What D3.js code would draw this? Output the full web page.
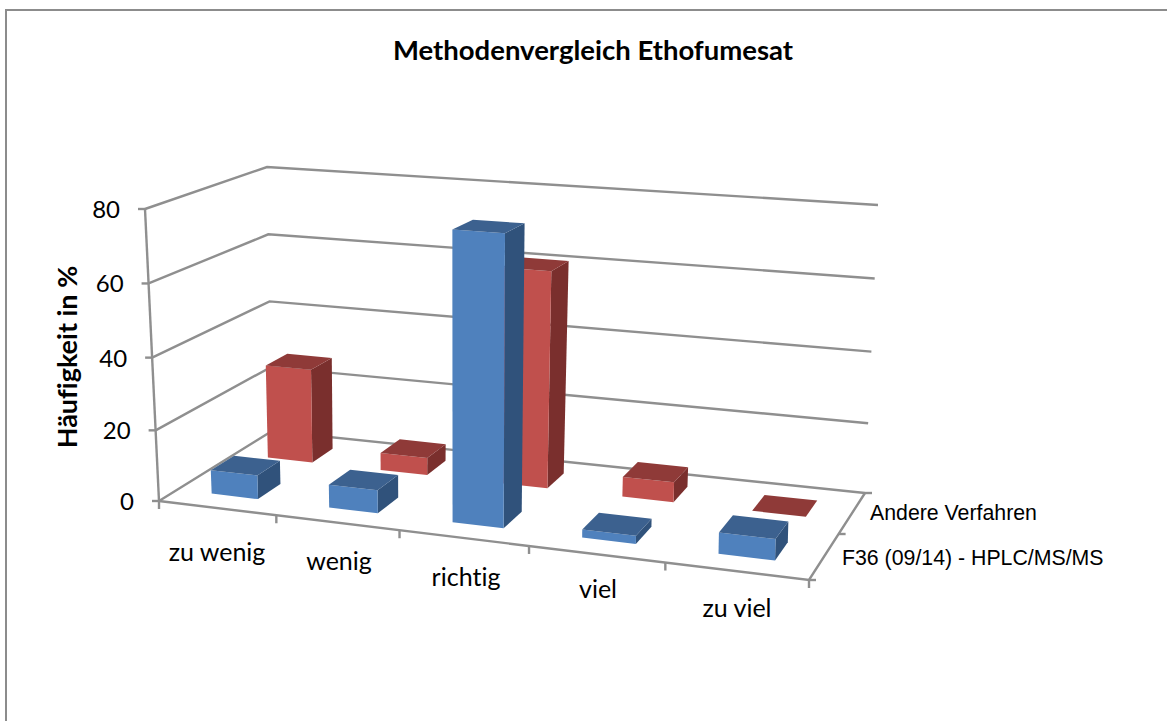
<!DOCTYPE html>
<html>
<head>
<meta charset="utf-8">
<style>html,body{margin:0;padding:0;background:#fff;overflow:hidden}svg{display:block}text{font-variant-ligatures:none;font-feature-settings:"liga" 0}</style>
<script src="https://cdn.jsdelivr.net/npm/d3@7"></script>
</head>
<body>
<svg id="chart" width="1167" height="721"></svg>
<script>
const title = "Methodenvergleich Ethofumesat";
const yTitle = "Häufigkeit in %";
const categories = ["zu wenig", "wenig", "richtig", "viel", "zu viel"];
const seriesNames = ["F36 (09/14) - HPLC/MS/MS", "Andere Verfahren"];
const valuesF36 = [6.7, 6.4, 78, 2.2, 5.6];
const valuesAndere = [27.5, 5, 61, 5.6, 0];
const yTicks = [0, 20, 40, 60, 80];

const svg = d3.select("#chart");

const floorQ = [[159,501],[809,580],[865,493],[272,431]];
const topQ = [[145,209],[815,256],[878,205],[267,167]];

function homography(q){
  const [[x0,y0],[x1,y1],[x2,y2],[x3,y3]] = q;
  const dx1=x1-x2, dx2=x3-x2, sx=x0-x1+x2-x3;
  const dy1=y1-y2, dy2=y3-y2, sy=y0-y1+y2-y3;
  const det=dx1*dy2-dx2*dy1;
  const g=(sx*dy2-dx2*sy)/det, h=(dx1*sy-sx*dy1)/det;
  const a=x1-x0+g*x1, b=x3-x0+h*x3, c=x0;
  const d=y1-y0+g*y1, e=y3-y0+h*y3, f=y0;
  return (u,v)=>{const w=g*u+h*v+1;return [(a*u+b*v+c)/w,(d*u+e*v+f)/w];};
}
const floorH = homography(floorQ), topH = homography(topQ);
const yScale = d3.scaleLinear().domain(yTicks).range([0,0.242,0.491,0.745,1]);
const uBand = d3.scaleBand().domain(categories).range([0,1]).paddingInner(0.6).paddingOuter(0.3);
const vBand = d3.scaleBand().domain(seriesNames).range([0,1]).paddingInner(0.6).paddingOuter(0.3);
const uPoint = d3.scaleBand().domain(categories).range([0,1]);

function P(u,v,val){
  const a=floorH(u,v), b=topH(u,v), t=yScale(val);
  return [a[0]+(b[0]-a[0])*t, a[1]+(b[1]-a[1])*t];
}
const pathOf = pts => d3.line()(pts)+"Z";
const gridColor="#8f8f8f";
const calibri="Lato, sans-serif", arial="'Liberation Sans', Arial, sans-serif";

const grid = svg.append("g").attr("fill","none").attr("stroke",gridColor).attr("stroke-width",2.4);
yTicks.forEach(t=>{
  const p=P(0,0,t);
  grid.append("path").attr("d", d3.line()([p,P(0,1,t),P(1,1,t)]));
  grid.append("path").attr("d", d3.line()([p,[p[0]-7,p[1]]]));
  svg.append("text").attr("x",p[0]-25).attr("y",p[1]+9)
    .attr("text-anchor","end").attr("font-family",calibri).attr("font-size",24).attr("fill","#000").text(t);
});
grid.append("path").attr("d", d3.line()([P(0,0,0),P(0,0,80)]));
grid.append("path").attr("d", d3.line()([P(0,0,0),P(1,0,0),P(1,1,0)]));
const uTicks = [0].concat(categories.map(c=>uPoint(c)+uPoint.bandwidth()));
uTicks.forEach(u=>{const p=P(u,0,0);grid.append("path").attr("d",d3.line()([p,[p[0],p[1]+8]]));});
[0,0.5,1].forEach(v=>{const p=P(1,v,0);grid.append("path").attr("d",d3.line()([p,[p[0]+7,p[1]]]));});

const palette = {
  [seriesNames[0]]:{front:"#4f81bd",top:"#3c618f",side:"#30527b"},
  [seriesNames[1]]:{front:"#c0504d",top:"#8f3a38",side:"#7a2f2d"}
};
function drawBar(g,cat,ser,val){
  const u0=uBand(cat),u1=u0+uBand.bandwidth(),v0=vBand(ser),v1=v0+vBand.bandwidth();
  const c=palette[ser];
  if(val>0){
    g.append("path").attr("d",pathOf([P(u1,v0,0),P(u1,v1,0),P(u1,v1,val),P(u1,v0,val)])).attr("fill",c.side);
    g.append("path").attr("d",pathOf([P(u0,v0,0),P(u1,v0,0),P(u1,v0,val),P(u0,v0,val)])).attr("fill",c.front);
  }
  g.append("path").attr("d",pathOf([P(u0,v0,val),P(u1,v0,val),P(u1,v1,val),P(u0,v1,val)])).attr("fill",c.top);
}
const bars = svg.append("g");
[[seriesNames[1],valuesAndere],[seriesNames[0],valuesF36]].forEach(([s,vals])=>{
  categories.forEach((c,i)=>drawBar(bars,c,s,vals[i]));
});

const labelX = d3.scaleOrdinal().domain(categories).range([217,339,466,598,737]);
const labelY = d3.scaleOrdinal().domain(categories).range([561,570,586,598,617]);
categories.forEach(c=>{
  svg.append("text").attr("x",labelX(c)).attr("y",labelY(c))
    .attr("text-anchor","middle").attr("font-family",calibri).attr("font-size",25).attr("fill","#000").text(c);
});
svg.append("text").attr("x",870).attr("y",520).attr("font-family",arial).attr("font-size",21.3).text(seriesNames[1]);
svg.append("text").attr("x",842).attr("y",565).attr("font-family",arial).attr("font-size",21.3).text(seriesNames[0]);

svg.append("text").attr("x",593).attr("y",60).attr("text-anchor","middle").attr("font-family",calibri).attr("font-weight",700).attr("font-size",27.5).text(title);
svg.append("text").attr("transform","translate(77,357) rotate(-90)").attr("text-anchor","middle").attr("font-family",calibri).attr("font-weight",700).attr("font-size",27).text(yTitle);

svg.append("path").attr("d",d3.line()([[6,721],[6,10],[1167,10]])).attr("fill","none").attr("stroke","#8c8c8c").attr("stroke-width",2);
</script>
</body>
</html>
